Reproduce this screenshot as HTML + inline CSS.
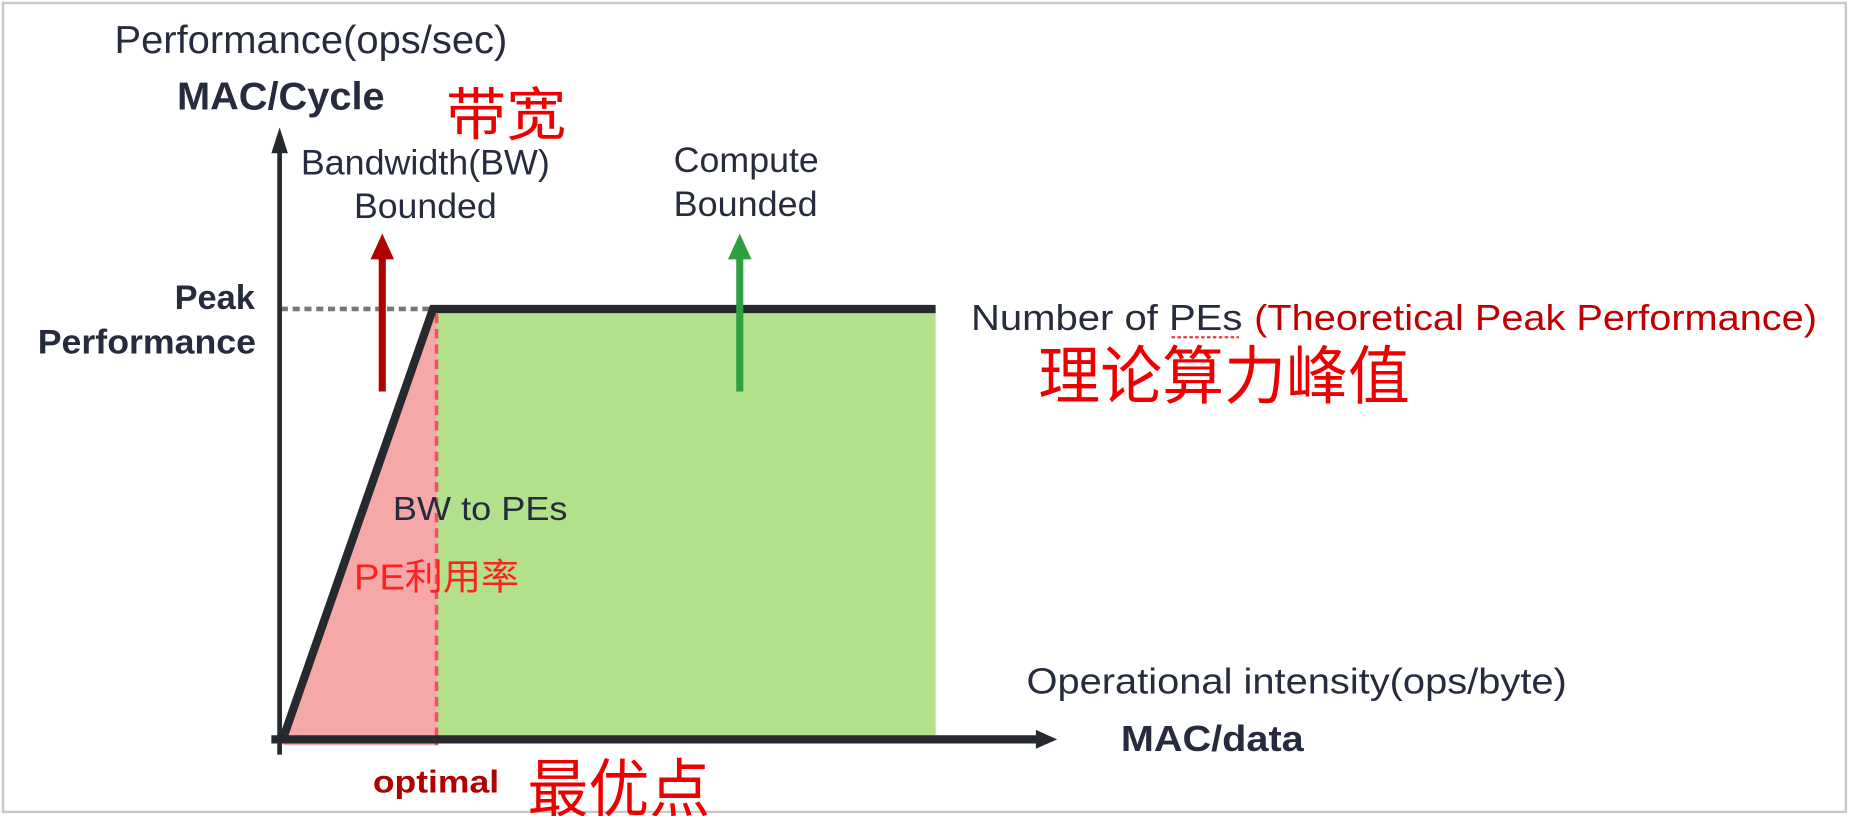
<!DOCTYPE html>
<html><head><meta charset="utf-8"><style>
html,body{margin:0;padding:0;background:#fff;}
svg{display:block;}
text{font-family:"Liberation Sans","Noto Sans CJK SC",sans-serif;}
</style></head><body>
<svg width="1850" height="816" viewBox="0 0 1568 692" preserveAspectRatio="none" xmlns="http://www.w3.org/2000/svg">
<rect x="0" y="0" width="1568" height="692" fill="#fff"/>
<rect x="2.5" y="2.5" width="1562" height="686" fill="none" stroke="#c8c8c8" stroke-width="2"/>
<rect x="370" y="264" width="423" height="362" fill="#b3e08a"/>
<polygon points="240,628 367,264 370,264 370,632 240,632" fill="#f6a8a8"/>
<line x1="370" y1="266" x2="370" y2="632" stroke="#f05060" stroke-width="3" stroke-dasharray="8,5"/>
<line x1="238" y1="262" x2="367" y2="262" stroke="#777" stroke-width="4" stroke-dasharray="6,4"/>
<polyline points="240,626 367,262 793,262" fill="none" stroke="#26292e" stroke-width="7"/>
<line x1="237" y1="126" x2="237" y2="640" stroke="#26292e" stroke-width="4"/>
<polygon points="237,108 230,130 244,130" fill="#26292e"/>
<line x1="230" y1="627" x2="880" y2="627" stroke="#26292e" stroke-width="7"/>
<polygon points="896,627 878,619 878,635" fill="#26292e"/>
<line x1="324" y1="332" x2="324" y2="216" stroke="#b00000" stroke-width="6"/>
<polygon points="324,198 314,220 334,220" fill="#b00000"/>
<line x1="627" y1="332" x2="627" y2="216" stroke="#2fa040" stroke-width="6"/>
<polygon points="627,198 617,220 637,220" fill="#2fa040"/>
<g lengthAdjust="spacingAndGlyphs">
<text x="97" y="45" font-size="33" fill="#262c3d" textLength="333" lengthAdjust="spacingAndGlyphs">Performance(ops/sec)</text>
<text x="150" y="93" font-size="33" font-weight="bold" fill="#262c3d" textLength="176" lengthAdjust="spacingAndGlyphs">MAC/Cycle</text>
<text x="378" y="114" font-size="48" fill="#ee0000" textLength="102" lengthAdjust="spacingAndGlyphs">带宽</text>
<text x="255" y="148" font-size="30" fill="#262c3d" textLength="211" lengthAdjust="spacingAndGlyphs">Bandwidth(BW)</text>
<text x="300" y="185" font-size="30" fill="#262c3d" textLength="121" lengthAdjust="spacingAndGlyphs">Bounded</text>
<text x="571" y="146" font-size="30" fill="#262c3d" textLength="123" lengthAdjust="spacingAndGlyphs">Compute</text>
<text x="571" y="183" font-size="30" fill="#262c3d" textLength="122" lengthAdjust="spacingAndGlyphs">Bounded</text>
<text x="148" y="262" font-size="29" font-weight="bold" fill="#262c3d" textLength="68" lengthAdjust="spacingAndGlyphs">Peak</text>
<text x="32" y="300" font-size="29" font-weight="bold" fill="#262c3d" textLength="185" lengthAdjust="spacingAndGlyphs">Performance</text>
<text x="823" y="280" font-size="31" fill="#262c3d" textLength="230" lengthAdjust="spacingAndGlyphs">Number of PEs</text>
<text x="1063" y="280" font-size="31" fill="#c00000" textLength="477" lengthAdjust="spacingAndGlyphs">(Theoretical Peak Performance)</text>
<line x1="993" y1="286" x2="1050" y2="286" stroke="#e04040" stroke-width="2" stroke-dasharray="3,2"/>
<text x="880" y="338" font-size="54" fill="#ee0000" textLength="315" lengthAdjust="spacingAndGlyphs">理论算力峰值</text>
<text x="333" y="441" font-size="28" fill="#262c3d" textLength="148" lengthAdjust="spacingAndGlyphs">BW to PEs</text>
<text x="300" y="500" font-size="31" fill="#ff2020" textLength="140" lengthAdjust="spacingAndGlyphs">PE利用率</text>
<text x="870" y="588" font-size="31" fill="#262c3d" textLength="458" lengthAdjust="spacingAndGlyphs">Operational intensity(ops/byte)</text>
<text x="950" y="637" font-size="31" font-weight="bold" fill="#262c3d" textLength="155" lengthAdjust="spacingAndGlyphs">MAC/data</text>
<text x="316" y="672" font-size="27" font-weight="bold" fill="#b00000" textLength="107" lengthAdjust="spacingAndGlyphs">optimal</text>
<text x="447" y="688" font-size="54" fill="#ee0000" textLength="155" lengthAdjust="spacingAndGlyphs">最优点</text>
</g>
</svg>
</body></html>
